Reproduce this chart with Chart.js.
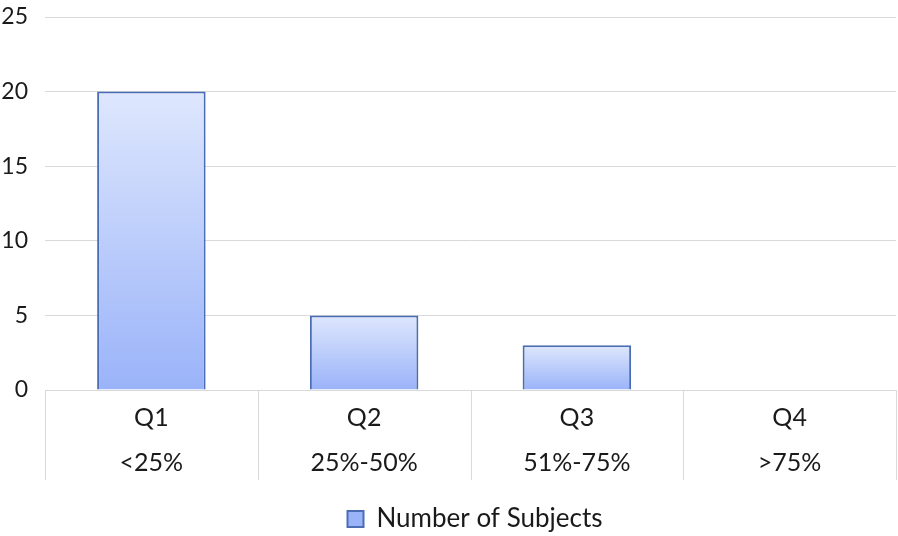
<!DOCTYPE html>
<html>
<head>
<meta charset="utf-8">
<script src="https://cdn.jsdelivr.net/npm/chart.js@4"></script>
<style>
  html, body { margin: 0; padding: 0; background: #fff; }
  #wrap { width: 898px; height: 536px; }
</style>
</head>
<body>
<div id="wrap"><canvas id="subjects"></canvas></div>
<script>
const quartiles = ["Q1", "Q2", "Q3", "Q4"];
const ranges = ["<25%", "25%-50%", "51%-75%", ">75%"];
const subjects = [20, 5, 3, 0];
const yTicks = [0, 5, 10, 15, 20, 25];

const gridColor = "#d9d9d9";
const textColor = "#1a1a1a";
const fontFamily = "Lato, 'Open Sans', sans-serif";
const sepDepth = 90; // how far the category separators run below the axis

const barFill = (context) => {
  const { chart, parsed } = context;
  if (!chart.chartArea || !parsed) return "#bccdfa";
  const y = chart.scales.y;
  const top = y.getPixelForValue(parsed.y);
  const base = y.getPixelForValue(0);
  if (!isFinite(top) || top === base) return "#bccdfa";
  const g = chart.ctx.createLinearGradient(0, top, 0, base);
  g.addColorStop(0, "#dee7fd");
  g.addColorStop(1, "#9ab3f9");
  return g;
};

// vertical separators between the category labels, below the plot
const categorySeparators = {
  id: "categorySeparators",
  afterLayout(chart) {
    // legend sits a little right of centre, lined up with the plot area
    chart.legend.left += chart.chartArea.left + 9;
  },
  afterDraw(chart) {
    const x = chart.scales.x;
    const { ctx, chartArea } = chart;
    const n = chart.data.labels.length;
    const step = x.getPixelForValue(1) - x.getPixelForValue(0);
    ctx.save();
    ctx.strokeStyle = gridColor;
    ctx.lineWidth = 1;
    for (let i = 0; i <= n; i++) {
      const px = Math.round(x.getPixelForValue(i) - step / 2) + 0.5;
      ctx.beginPath();
      ctx.moveTo(px, chartArea.bottom);
      ctx.lineTo(px, chartArea.bottom + sepDepth);
      ctx.stroke();
    }
    ctx.restore();
  },
};

const data = {
  labels: quartiles.map((q, i) => [q, ranges[i]]),
  datasets: [
    {
      label: "Number of Subjects",
      data: subjects,
      backgroundColor: barFill,
      borderColor: "#4a6db3",
      borderWidth: 2,
      barPercentage: 0.51,
      categoryPercentage: 1,
    },
  ],
};

const options = {
  responsive: true,
  maintainAspectRatio: false,
  animation: false,
  layout: {
    padding: { top: 0, right: 2, left: 0, bottom: -6 },
  },
  scales: {
    x: {
      grid: { display: false, drawTicks: false },
      border: { color: gridColor },
      afterFit: (scale) => {
        scale.height = 113;
      },
      ticks: {
        color: textColor,
        padding: 5,
        font: { family: fontFamily, size: 25, lineHeight: 1.8 },
      },
    },
    y: {
      min: 0,
      max: 25,
      afterBuildTicks: (scale) => {
        scale.ticks = yTicks.map((v) => ({ value: v }));
      },
      afterFit: (scale) => {
        scale.width = 45;
        scale.paddingTop = 17;
        scale.paddingBottom = 0;
      },
      grid: { color: gridColor, drawTicks: false },
      border: { display: false },
      ticks: {
        color: textColor,
        padding: 17,
        font: { family: fontFamily, size: 23 },
      },
    },
  },
  plugins: {
    legend: {
      position: "bottom",
      labels: {
        color: textColor,
        boxWidth: 16,
        boxHeight: 16,
        padding: 3,
        font: { family: fontFamily, size: 26 },
      },
    },
    tooltip: { enabled: false },
  },
};

new Chart(document.getElementById("subjects"), {
  type: "bar",
  data,
  options,
  plugins: [categorySeparators],
});
</script>
</body>
</html>
